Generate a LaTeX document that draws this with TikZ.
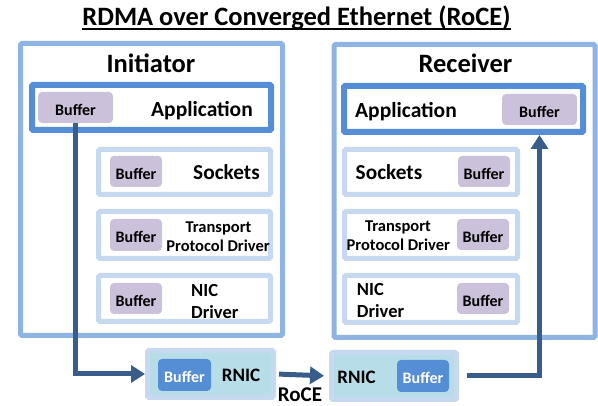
\documentclass[tikz,border=0pt]{standalone}
\usepackage{fontspec}
\setmainfont{Carlito}
\usetikzlibrary{arrows.meta}
\definecolor{outerc}{HTML}{8DB4E2}
\definecolor{appc}{HTML}{558ED5}
\definecolor{lightc}{HTML}{C6D9F1}
\definecolor{bufp}{HTML}{CCC1DA}
\definecolor{rnicfill}{HTML}{B7DEE8}
\definecolor{arrowc}{HTML}{385D8A}
\newcommand{\fsz}[1]{\fontsize{#1}{#1}\selectfont\bfseries}
\begin{document}
\begin{tikzpicture}[x=1pt,y=-1pt,
  hostbox/.style={draw=outerc, line width=5pt, fill=white, rectangle, inner sep=0pt, rounded corners=1.5pt},
  appbox/.style={draw=appc, line width=6pt, fill=white, rectangle, inner sep=0pt, rounded corners=1pt},
  layerbox/.style={draw=lightc, line width=5pt, fill=white, rectangle, inner sep=0pt, rounded corners=1.5pt},
  rnicbox/.style={draw=lightc, line width=5pt, fill=rnicfill, rectangle, inner sep=0pt, rounded corners=1.5pt},
  buf/.style={fill=bufp, rectangle, rounded corners=4pt, inner sep=0pt, font=\fsz{16}, text height=16pt, text depth=0pt},
  nbuf/.style={fill=appc, rectangle, rounded corners=4pt, inner sep=0pt, font=\fsz{16}, text=white, text height=16pt, text depth=0pt},
  lbl/.style={inner sep=0pt, anchor=base},
  flow/.style={draw=arrowc, line width=5pt, -{Triangle[length=14pt,width=17pt]}},
]
\useasboundingbox (0,0) rectangle (598,406);

% title
\node[lbl, font=\fsz{26.5}] (title) at (296.5,26) {RDMA over Converged Ethernet (RoCE)};
\draw[line width=1.8pt] ([yshift=-3.2pt]title.base west) -- ([yshift=-3.2pt]title.base east);

% initiator
\node[hostbox, minimum width=262pt, minimum height=292pt] (init) at (151.5,189.5) {};
\node[lbl, font=\fsz{26.5}] (initT) at (151,73) {Initiator};
\node[appbox, minimum width=239pt, minimum height=45pt] (iapp) at (151.5,107.5) {};
\node[buf, minimum width=75pt, minimum height=31pt] (ibapp) at (75.5,107.5) {Buffer};
\node[lbl, font=\fsz{21.5}] (iappT) at (202,117) {Application};

\node[layerbox, minimum width=172pt, minimum height=45pt] (isock) at (184.5,172) {};
\node[buf, minimum width=52pt, minimum height=31pt] (ibsock) at (136,171.5) {Buffer};
\node[lbl, font=\fsz{21.3}] (isockT) at (226.5,180) {Sockets};

\node[layerbox, minimum width=172pt, minimum height=47pt] (itr) at (184.5,235) {};
\node[buf, minimum width=52pt, minimum height=32pt] (ibtr) at (136,235) {Buffer};
\node[lbl, font=\fsz{16.5}] (itrT1) at (218.5,233) {Transport};
\node[lbl, font=\fsz{16.5}] (itrT2) at (218,252) {Protocol Driver};

\node[layerbox, minimum width=172pt, minimum height=46pt] (inic) at (184.5,298.5) {};
\node[buf, minimum width=52pt, minimum height=31pt] (ibnic) at (136,298.5) {Buffer};
\node[lbl, anchor=base west, font=\fsz{18.5}] (inicT1) at (191,296.5) {NIC};
\node[lbl, anchor=base west, font=\fsz{18.5}] (inicT2) at (191,319) {Driver};

% receiver
\node[hostbox, minimum width=261pt, minimum height=293pt] (rec) at (464.5,191) {};
\node[lbl, font=\fsz{26.5}] (recT) at (465.5,73) {Receiver};
\node[appbox, minimum width=239pt, minimum height=46pt] (rapp) at (463.5,109) {};
\node[buf, minimum width=75pt, minimum height=31pt] (rbapp) at (539.5,109.5) {Buffer};
\node[lbl, font=\fsz{21.5}] (rappT) at (406,117.5) {Application};

\node[layerbox, minimum width=173pt, minimum height=45pt] (rsock) at (431,172) {};
\node[buf, minimum width=52pt, minimum height=31pt] (rbsock) at (484,171.5) {Buffer};
\node[lbl, font=\fsz{21.3}] (rsockT) at (389,180) {Sockets};

\node[layerbox, minimum width=173pt, minimum height=47pt] (rtr) at (431,235) {};
\node[buf, minimum width=52pt, minimum height=31pt] (rbtr) at (483,234.5) {Buffer};
\node[lbl, font=\fsz{16.5}] (rtrT1) at (398,232) {Transport};
\node[lbl, font=\fsz{16.5}] (rtrT2) at (398.3,251) {Protocol Driver};

\node[layerbox, minimum width=173pt, minimum height=47pt] (rnic) at (431,299) {};
\node[buf, minimum width=52pt, minimum height=31pt] (rbnic) at (483,298.5) {Buffer};
\node[lbl, anchor=base west, font=\fsz{18.5}] (rnicT1) at (356.7,296) {NIC};
\node[lbl, anchor=base west, font=\fsz{18.5}] (rnicT2) at (356.7,318) {Driver};

% RNICs
\node[rnicbox, minimum width=126pt, minimum height=47pt] (irnic) at (210.5,374) {};
\node[nbuf, minimum width=53pt, minimum height=32pt] (irbuf) at (184.5,375) {Buffer};
\node[lbl, font=\fsz{19}] (irnicT) at (241,381.5) {RNIC};

\node[rnicbox, minimum width=125pt, minimum height=47pt] (rrnic) at (394,376) {};
\node[nbuf, minimum width=52pt, minimum height=32pt] (rrbuf) at (423,376) {Buffer};
\node[lbl, font=\fsz{19}] (rrnicT) at (356.5,383.5) {RNIC};

% flows
\draw[flow, shorten <=3pt, shorten >=5pt] (irnic.east) -- (rrnic.west);
\node[lbl, font=\fsz{21}] (roce) at (300,401.5) {RoCE};
\draw[flow] (ibapp.south) -- (ibapp.south |- irnic.west) -- (irnic.west);
\draw[flow, shorten <=8pt] (rrnic.east) -- (rbapp.south |- rrnic.east) -- (rbapp.south |- rapp.south);
\end{tikzpicture}
\end{document}
